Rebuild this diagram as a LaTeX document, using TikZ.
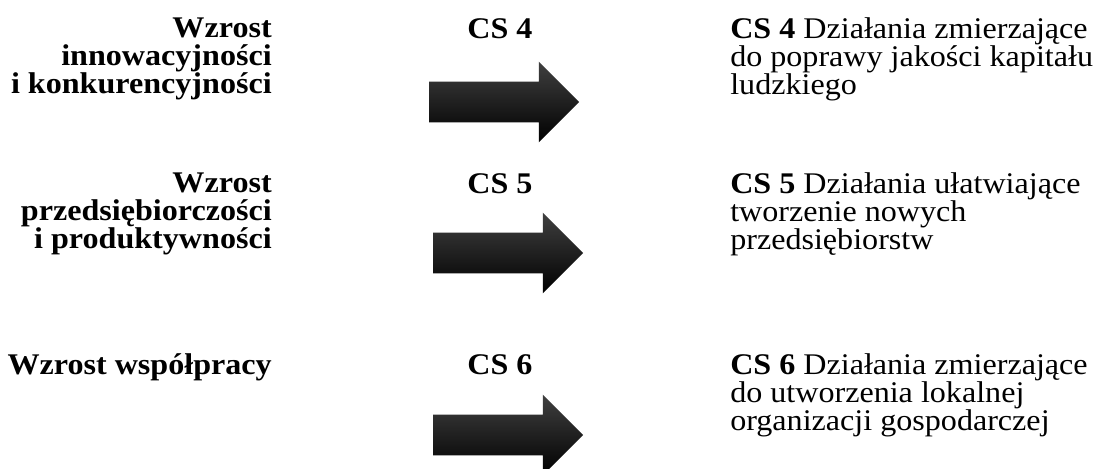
\documentclass[tikz,border=0pt]{standalone}
\usepackage{fontspec}
\setmainfont[FakeStretch=1.07]{Liberation Serif}
\usetikzlibrary{shapes.arrows, positioning}
\lineskiplimit=-20pt

\begin{document}
\begin{tikzpicture}[x=0.75pt,y=-0.75pt,inner sep=0pt]
  \tikzstyle{every node}=[font=\fontsize{22.5}{21}\selectfont]
  \tikzstyle{goal}=[anchor=north east, align=right, font=\fontsize{22.5}{21}\selectfont\bfseries]
  \tikzstyle{cs}=[anchor=base, font=\fontsize{22.5}{21}\selectfont\bfseries]
  \tikzstyle{desc}=[anchor=north west, align=left]
  \tikzstyle{bigarrow}=[single arrow, minimum height=112.5pt, inner xsep=0pt, inner ysep=15pt,
    single arrow head extend=15pt, top color=black!75, middle color=black, bottom color=black]

    \fill[white] (0,0) rectangle (1095,468);
    \useasboundingbox (0,0) rectangle (1095,468);

    % left column
    \node[goal] (g4) at (272,17.5)  {Wzrost\\innowacyjności\\i konkurencyjności};
    \node[goal] (g5) at (272,172.5) {Wzrost\\przedsiębiorczości\\i produktywności};
    \node[goal] (g6) at (272,353.5) {Wzrost współpracy};

    % middle column
    \node[cs] (cs4) at (500,38)  {CS 4};
    \node[cs] (cs5) at (500,193) {CS 5};
    \node[cs] (cs6) at (500,374) {CS 6};

    \node[bigarrow] (a4) at (494,102) {};
    \node[bigarrow] (a5) at (498,253) {};
    \node[bigarrow] (a6) at (498,435) {};

    % right column
    \node[desc] (d4) at (730,17.5)
      {\textbf{CS 4} Działania zmierzające\\do poprawy jakości kapitału\\ludzkiego};
    \node[desc] (d5) at (730,172.5)
      {\textbf{CS 5} Działania ułatwiające\\tworzenie nowych\\przedsiębiorstw};
    \node[desc] (d6) at (730,353.5)
      {\textbf{CS 6} Działania zmierzające\\do utworzenia lokalnej\\organizacji gospodarczej};
\end{tikzpicture}
\end{document}
